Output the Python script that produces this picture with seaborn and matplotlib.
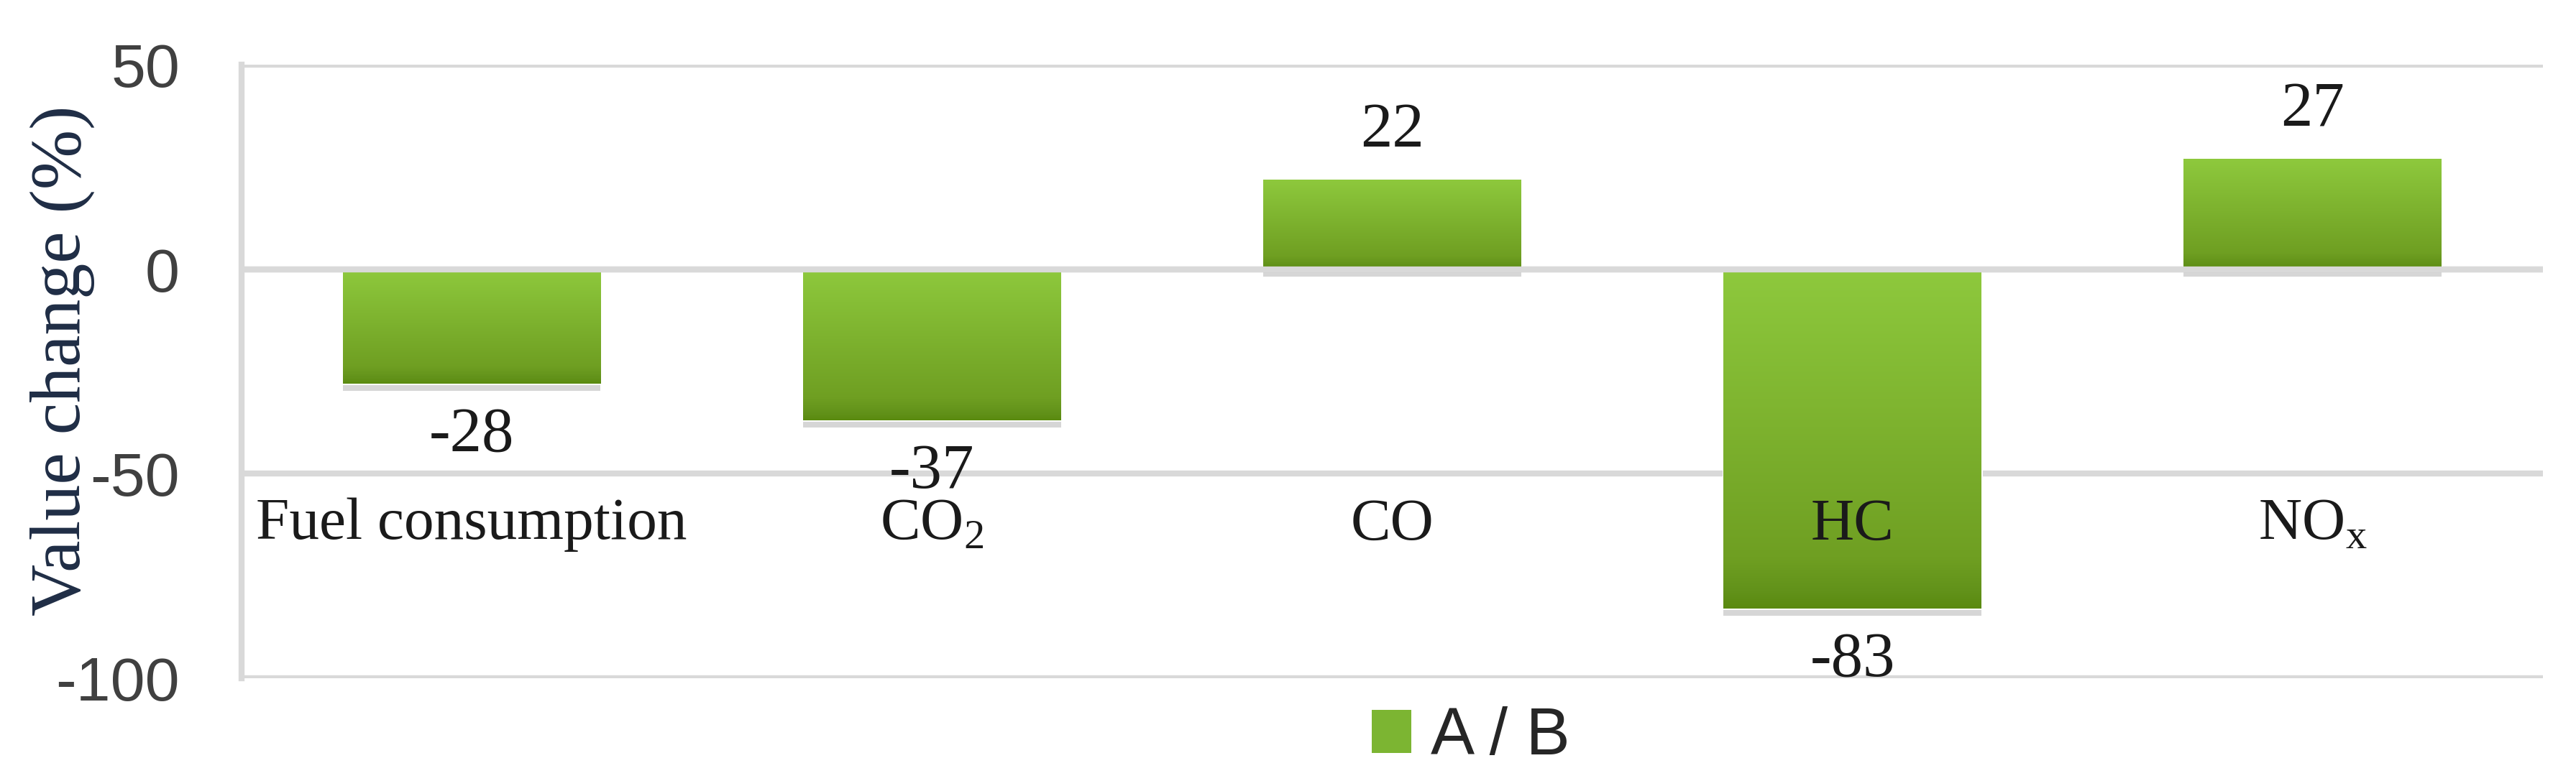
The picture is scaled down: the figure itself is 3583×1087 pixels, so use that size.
import matplotlib
matplotlib.use("Agg")
import matplotlib.pyplot as plt
import matplotlib.patheffects as pe
from matplotlib.colors import LinearSegmentedColormap
from matplotlib.patches import Patch
import numpy as np
import pandas as pd
import seaborn as sns

# data
categories = ["Fuel consumption", "CO$_\\mathregular{2}$", "CO", "HC", "NO$_\\mathregular{x}$"]
values = [-28, -37, 22, -83, 27]
series_name = "A / B"
y_ticks = [50, 0, -50, -100]

sns.set_theme(style="white")
plt.rcParams["axes.unicode_minus"] = False
plt.rcParams["mathtext.fontset"] = "custom"
plt.rcParams["mathtext.rm"] = "Liberation Serif"
plt.rcParams["font.family"] = ["Liberation Sans", "DejaVu Sans"]

df = pd.DataFrame({"category": categories, "value": values})

fig = plt.figure(figsize=(17.915, 5.435), dpi=200)
ax = fig.add_axes([0.0938, 0.1316, 0.8933, 0.7854])

sns.barplot(data=df, x="category", y="value", color="#7cb532", width=0.56,
            ax=ax, zorder=2)

# vertical green gradient, light at top, dark at bottom
grad = LinearSegmentedColormap.from_list(
    "bar", [(0, "#8ec93d"), (0.85, "#6f9f22"), (0.95, "#62921a"), (1, "#5a8a10")])
for p in ax.patches:
    x0, w = p.get_x(), p.get_width()
    y0, h = p.get_y(), p.get_height()
    lo, hi = min(y0, y0 + h), max(y0, y0 + h)
    p.set_path_effects([pe.SimplePatchShadow(offset=(0, -3.5), shadow_rgbFace="#8c8c8c",
                                             alpha=0.35), pe.Normal()])
    im = ax.imshow(np.linspace(0, 1, 256).reshape(-1, 1), cmap=grad,
                   extent=[x0, x0 + w, lo, hi], origin="upper", aspect="auto", zorder=2.5)
    im.set_clip_path(p)

ax.set_xlim(-0.5, len(categories) - 0.5)
ax.set_ylim(-100, 50)
ax.set_yticks(y_ticks)
ax.grid(axis="y", color="#d9d9d9", lw=3)
ax.grid(axis="x", visible=False)
ax.set_axisbelow(True)
ax.axhline(0, color="#d9d9d9", lw=3, zorder=3)

for s in ["top", "right", "bottom"]:
    ax.spines[s].set_visible(False)
ax.spines["left"].set_color("#d9d9d9")
ax.spines["left"].set_linewidth(3)

ax.tick_params(axis="y", labelsize=31, colors="#404040", length=0, pad=31)
ax.tick_params(axis="x", labelbottom=False, length=0)
ax.set_xlabel("")

# category names sit inside the plot, below the -50 line
for i, c in enumerate(categories):
    ax.text(i, -66, c, ha="center", va="baseline", fontsize=30,
            family="Liberation Serif", color="#1a1a1a", zorder=4)

# value labels outside bar ends
for p, v in zip(ax.patches, values):
    cx = p.get_x() + p.get_width() / 2
    ax.annotate(f"{v}", xy=(cx, v), xytext=(0, 24 if v > 0 else -26),
                textcoords="offset points", ha="center", va="center",
                fontsize=32, family="Liberation Serif", color="#1a1a1a", zorder=4)

ax.set_ylabel("Value change (%)", fontsize=36, family="Liberation Serif", color="#1f2d45")
ax.yaxis.set_label_coords(-0.0637, 0.518)

fig.legend(handles=[Patch(facecolor="#7cb532", edgecolor="none")], labels=[series_name],
           loc="center", bbox_to_anchor=(0.571, 0.056), frameon=False,
           prop={"family": "Liberation Sans", "size": 33},
           handlelength=0.6, handleheight=0.62, handletextpad=0.3)

fig.savefig("out.png", dpi=200, facecolor="white")
